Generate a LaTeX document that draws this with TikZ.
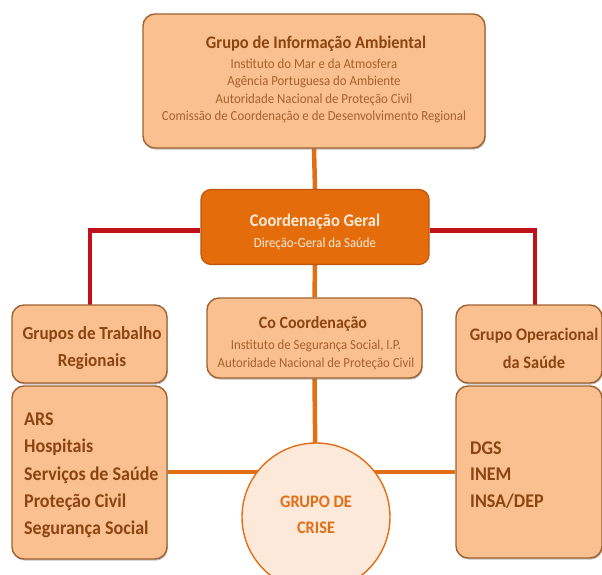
\documentclass[tikz,border=0pt]{standalone}
\usepackage{fontspec}
\setmainfont{Carlito}[FakeStretch=0.93]
\usetikzlibrary{shadows,backgrounds}
\definecolor{boxfill}{RGB}{250,192,143}
\definecolor{boxline}{RGB}{160,98,48}
\definecolor{boxtext}{RGB}{140,68,16}
\definecolor{subtext}{RGB}{168,96,44}
\definecolor{cgfill}{RGB}{228,108,10}
\definecolor{cgline}{RGB}{190,88,14}
\definecolor{cgtext}{RGB}{253,236,220}
\definecolor{redline}{RGB}{192,16,26}
\definecolor{orline}{RGB}{226,110,22}
\definecolor{circfill}{RGB}{253,233,217}
\tikzset{
  orgbox/.style={draw=boxline, line width=1.4pt, fill=boxfill, rounded corners=12pt,
     inner sep=0pt,
     drop shadow={shadow xshift=0.8pt, shadow yshift=-1.6pt, opacity=0.35, fill=black!70}},
  cgbox/.style={draw=cgline, line width=1.2pt, fill=cgfill, rounded corners=10pt,
     inner sep=0pt},
  txt/.style={inner sep=0pt, align=center, text=boxtext},
  titletxt/.style={txt, font=\fontsize{17.7}{20}\selectfont\bfseries},
  subtxt/.style={txt, text=subtext, font=\fontsize{13.8}{17.4}\selectfont},
  listtxt/.style={inner sep=0pt, align=left, anchor=west, text=boxtext},
  redconn/.style={draw=redline, line width=4.5pt},
  orconn/.style={draw=orline, line width=4.5pt},
}
\begin{document}
\begin{tikzpicture}[x=1pt,y=-1pt]
\useasboundingbox (0,0) rectangle (602,575);
\coordinate (lcorner) at (90,230.5);
\coordinate (rcorner) at (535,230.5);
\coordinate (lturn) at (90,306);
\coordinate (rturn) at (535,306);
\coordinate (hl) at (0,472);

% boxes
\node[orgbox, minimum width=342pt, minimum height=134pt] (gia) at (314,81) {};
\node[cgbox, minimum width=228pt, minimum height=75pt] (cg) at (315,227) {};
\node[orgbox, minimum width=215pt, minimum height=80pt] (co) at (314.5,338) {};
\node[orgbox, minimum width=155pt, minimum height=78pt] (gtr) at (89.5,344) {};
\node[orgbox, minimum width=155pt, minimum height=173pt] (gtrl) at (89.5,472.5) {};
\node[orgbox, minimum width=146pt, minimum height=78pt] (gos) at (529,344) {};
\node[orgbox, minimum width=146pt, minimum height=172pt] (gosl) at (529,472) {};
\node[circle, draw=orline, line width=1.4pt, fill=circfill, minimum size=148pt,
      inner sep=0pt] (crise) at (316,517) {};

% texts
\node[titletxt] (giaT) at (316,44) {Grupo de Informação Ambiental};
\node[subtxt] (giaL) at (314,91)
  {Instituto do Mar e da Atmosfera\\
   Agência Portuguesa do Ambiente\\
   Autoridade Nacional de Proteção Civil\\
   Comissão de Coordenação e de Desenvolvimento Regional};

\node[titletxt, text=cgtext] (cgT) at (315,222) {Coordenação Geral};
\node[subtxt, text=cgtext] (cgS) at (315,244) {Direção-Geral da Saúde};

\node[titletxt, font=\fontsize{17.2}{20}\selectfont\bfseries] (coT) at (313,324) {Co Coordenação};
\node[subtxt, font=\fontsize{13.8}{18}\selectfont] (coL) at (316,355)
  {Instituto de Segurança Social, I.P.\\Autoridade Nacional de Proteção Civil};

\node[txt, font=\fontsize{18.4}{27}\selectfont\bfseries] (gtrT) at (92,348)
  {Grupos de Trabalho\\Regionais};
\node[listtxt, font=\fontsize{19.4}{27.3}\selectfont\bfseries] (gtrL) at (24,475.5)
  {ARS\\Hospitais\\Serviços de Saúde\\Proteção Civil\\Segurança Social};

\node[txt, font=\fontsize{17.6}{28}\selectfont\bfseries] (gosT) at (534,348)
  {Grupo Operacional\\da Saúde};
\node[listtxt, font=\fontsize{19.4}{26.5}\selectfont\bfseries] (gosL) at (470,475)
  {DGS\\INEM\\INSA/DEP};

\node[txt, text=orline, font=\fontsize{17.6}{26}\selectfont\bfseries] (criseT) at (316,515)
  {GRUPO DE\\CRISE};

% connectors
\begin{scope}[on background layer]
\draw[orconn] (gia.south) -- (cg.north);
\draw[orconn] (cg.south) -- (co.north);
\draw[orconn] (co.south) -- (crise.center);
\draw[orconn] (gtrl.east |- hl) -- (gosl.west |- hl);
\draw[redconn] (cg.west |- lcorner) -- (lcorner) -- (lturn);
\draw[redconn] (cg.east |- rcorner) -- (rcorner) -- (rturn);
\end{scope}
\end{tikzpicture}
\end{document}
